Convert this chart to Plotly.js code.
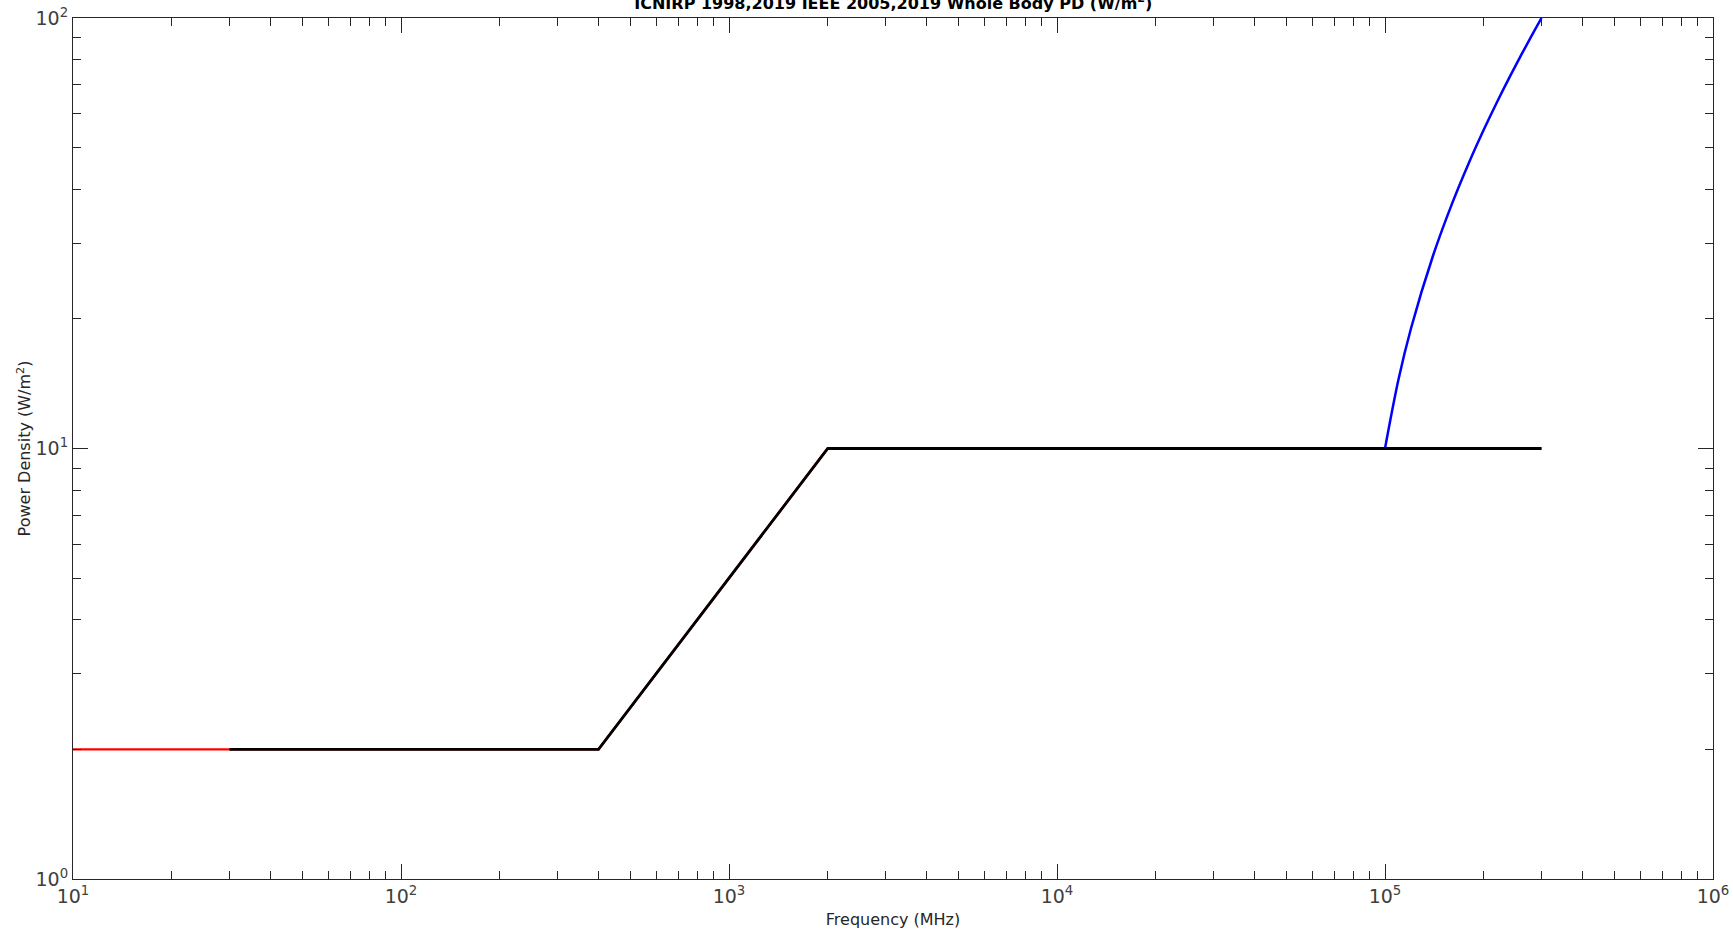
<!DOCTYPE html>
<html>
<head>
<meta charset="utf-8">
<script src="https://cdn.plot.ly/plotly-3.0.1.min.js"></script>
<style>html,body{margin:0;padding:0;background:#fff;}#plot{width:1733px;height:932px;}</style>
</head>
<body>
<div id="plot"></div>
<script>
// ICNIRP 1998 (red)
const icnirpFreq = [10, 400, 2000, 300000];
const icnirpPD   = [2, 2, 10, 10];
// IEEE 2005 above 100 GHz (blue)
const ieee2005Freq = [100000, 110000, 120000, 140000, 160000, 180000, 200000, 220000, 240000, 260000, 280000, 300000];
const ieee2005PD   = [10, 14.5, 19, 28, 37, 46, 55, 64, 73, 82, 91, 100];
// IEEE 2019 (black)
const ieee2019Freq = [30, 400, 2000, 300000];
const ieee2019PD   = [2, 2, 10, 10];

// Tick labels
const xTickVals = [10, 100, 1000, 10000, 100000, 1000000];
const xTickText = ['10<sup>1</sup>', '10<sup>2</sup>', '10<sup>3</sup>', '10<sup>4</sup>', '10<sup>5</sup>', '10<sup>6</sup>'];
const yTickVals = [1, 10, 100];
const yTickText = ['10<sup>0</sup>', '10<sup>1</sup>', '10<sup>2</sup>'];

const font = {family: 'DejaVu Sans, sans-serif', color: '#262626'};

const traces = [
  {x: icnirpFreq, y: icnirpPD, mode: 'lines', line: {color: '#ff0000', width: 2.4}, name: 'ICNIRP'},
  {x: ieee2005Freq, y: ieee2005PD, mode: 'lines', line: {color: '#0000ff', width: 2.5, shape: 'spline'}, name: 'IEEE 2005'},
  {x: ieee2019Freq, y: ieee2019PD, mode: 'lines', line: {color: '#000000', width: 2.8}, name: 'IEEE 2019'}
];

const axisCommon = {
  type: 'log',
  showgrid: false,
  zeroline: false,
  showline: true,
  linecolor: '#262626',
  linewidth: 1,
  mirror: 'allticks',
  ticks: 'inside',
  ticklen: 15,
  tickwidth: 1,
  tickcolor: '#262626',
  tickmode: 'array',
  tickfont: {family: 'DejaVu Sans, sans-serif', size: 19, color: '#404040'},
  minor: {ticks: 'inside', ticklen: 8, tickwidth: 1, tickcolor: '#262626', dtick: 'D1', showgrid: false}
};

const layout = {
  width: 1733, height: 932,
  margin: {l: 73, r: 20, t: 18, b: 53},
  paper_bgcolor: '#ffffff',
  plot_bgcolor: '#ffffff',
  showlegend: false,
  font: font,
  title: {
    text: 'ICNIRP 1998,2019 IEEE 2005,2019 Whole Body PD (W/m<sup>2</sup>)',
    font: {family: 'DejaVu Sans, sans-serif', size: 16, color: '#000000', weight: 'bold'},
    x: 0.5155, xref: 'container', xanchor: 'center',
    y: 0.9965, yref: 'container', yanchor: 'middle'
  },
  xaxis: Object.assign({}, axisCommon, {
    range: [1, 6],
    tickvals: xTickVals, ticktext: xTickText,
    title: {text: 'Frequency (MHz)', font: {family: 'DejaVu Sans, sans-serif', size: 16, color: '#262626'}, standoff: 8}
  }),
  yaxis: Object.assign({}, axisCommon, {
    range: [0, 2],
    tickvals: yTickVals, ticktext: yTickText,
    title: {text: 'Power Density (W/m<sup>2</sup>)', font: {family: 'DejaVu Sans, sans-serif', size: 16, color: '#262626'}, standoff: 0}
  })
};

Plotly.newPlot('plot', traces, layout, {displayModeBar: false, staticPlot: true});
</script>
</body>
</html>
